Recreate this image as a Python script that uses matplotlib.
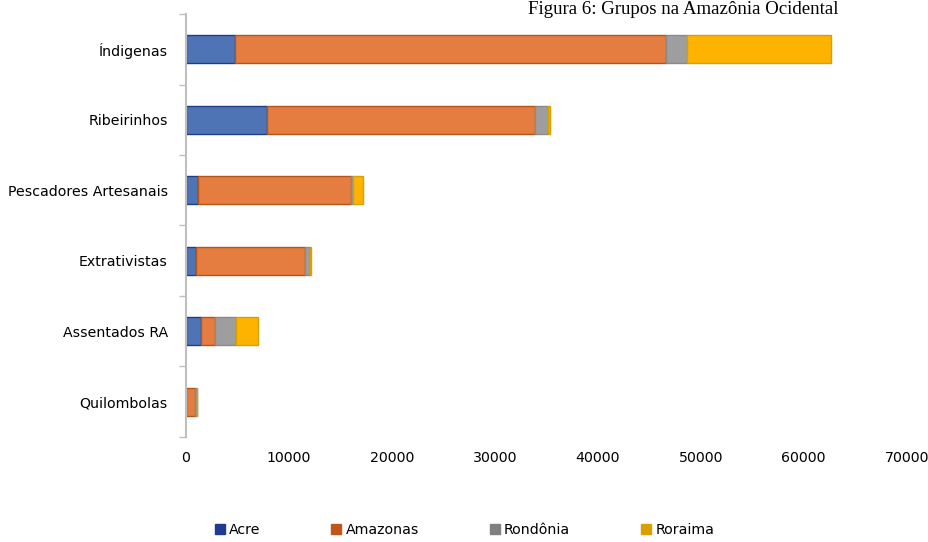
import numpy as np
import matplotlib.pyplot as plt
from matplotlib.patches import Patch

# categories (top to bottom) and values per state
grupos = ['Índigenas', 'Ribeirinhos', 'Pescadores Artesanais', 'Extrativistas',
          'Assentados RA', 'Quilombolas']
acre = [4820, 7910, 1220, 1000, 1480, 30]
amazonas = [41850, 26030, 14850, 10580, 1350, 840]
rondonia = [2030, 1260, 160, 480, 2090, 260]
roraima = [13980, 190, 960, 130, 2090, 0]

estados = ['Acre', 'Amazonas', 'Rondônia', 'Roraima']
cores = ['#4F74B5', '#E47D3F', '#9E9E9E', '#FDB300']
bordas = ['#1F3E8A', '#B4561A', '#8A8A8A', '#D9A000']
cores_leg = ['#1F3A8F', '#C0561A', '#808080', '#D9A000']

plt.rcParams['font.family'] = ['DejaVu Sans']

fig = plt.figure(figsize=(9.29, 5.42), dpi=100)
ax = fig.add_axes([0.2, 0.194, 0.776, 0.78])

y = np.arange(len(grupos))
esquerda = np.zeros(len(grupos))
for vals, c, b in zip([acre, amazonas, rondonia, roraima], cores, bordas):
    ax.barh(y, vals, left=esquerda, height=0.4, color=c, edgecolor=b, linewidth=1)
    esquerda = esquerda + np.array(vals)

ax.set_ylim(len(grupos) - 0.5, -0.5)
ax.set_xlim(0, 70000)
ax.set_xticks(np.arange(0, 70001, 10000))
ax.set_yticks(y)
ax.set_yticklabels(grupos, fontsize=10.2)
ax.set_yticks(np.arange(-0.5, len(grupos), 1), minor=True)
ax.tick_params(axis='y', which='major', length=0, pad=13)
ax.tick_params(axis='y', which='minor', length=5, color='#BFBFBF', width=1)
ax.tick_params(axis='x', length=0, labelsize=10.2, pad=10)
for s in ['top', 'right', 'bottom']:
    ax.spines[s].set_visible(False)
ax.spines['left'].set_color('#BFBFBF')
ax.spines['left'].set_linewidth(1.5)

fig.text(0.735, 0.974, 'Figura 6: Grupos na Amazônia Ocidental', ha='center',
         va='baseline', fontsize=13.6, family='Liberation Serif')

handles = [Patch(facecolor=c, edgecolor=c) for c in cores_leg]
fig.legend(handles, estados, loc='center', bbox_to_anchor=(0.5, 0.022), ncol=4,
           frameon=False, fontsize=10.2, handlelength=0.7, handleheight=0.7,
           handletextpad=0.3, columnspacing=5.0)

plt.savefig('out.png', dpi=100)
